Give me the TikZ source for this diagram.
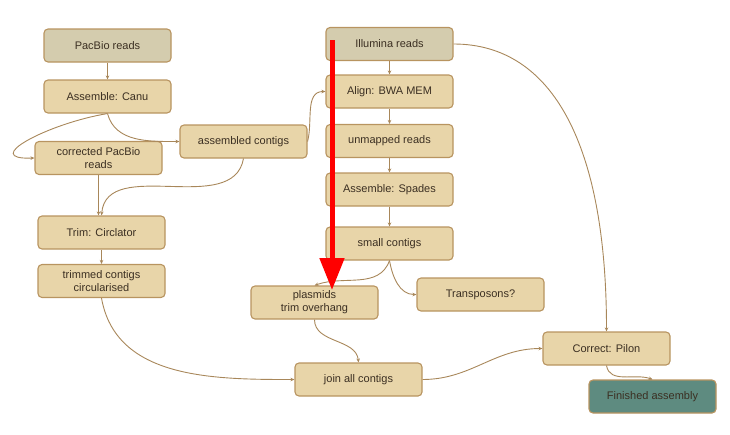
\documentclass[tikz,border=0pt]{standalone}
\usepackage{fontspec}
\setmainfont{Liberation Sans}
\usetikzlibrary{arrows.meta}

\definecolor{boxfill}{HTML}{E8D5A9}
\definecolor{inputfill}{HTML}{D4CCAE}
\definecolor{donefill}{HTML}{5E8B80}
\definecolor{boxline}{HTML}{B89460}
\definecolor{edgeline}{HTML}{A8875A}
\definecolor{boxtext}{HTML}{3B2F22}

\tikzset{
  stepbox/.style={draw=boxline, fill=boxfill, line width=1.1pt, rounded corners=4pt,
    minimum width=127pt, minimum height=33pt, align=center, text=boxtext,
    font=\fontsize{11}{13}\selectfont},
  inputbox/.style={stepbox, fill=inputfill},
  donebox/.style={stepbox, fill=donefill},
  flow/.style={draw=edgeline, line width=0.9pt, -{Stealth[length=4pt,width=3.5pt]}}
}

\begin{document}
\begin{tikzpicture}[x=1pt, y=1pt]

    % 0. Рамка картинки
    \useasboundingbox (0,0) rectangle (730,-434);

    % 1. Ветка PacBio (слева)
    \node[inputbox] (pacbio) at (107.5,-45.5) {PacBio reads};
    \node[stepbox] (canu) at (107.5,-96.5) {Assemble: Canu};
    \node[stepbox] (corr) at (98.5,-158) {corrected PacBio\\reads};
    \node[stepbox] (asm) at (243.5,-141.5) {assembled contigs};
    \node[stepbox] (circ) at (101.5,-232.5) {Trim: Circlator};
    \node[stepbox] (trimmed) at (101.5,-281) {trimmed contigs\\circularised};

    % 2. Ветка Illumina (в середине)
    \node[inputbox] (illu) at (389.5,-44) {Illumina reads};
    \node[stepbox] (bwa) at (389.5,-91.5) {Align: BWA MEM};
    \node[stepbox] (unmap) at (389.5,-141) {unmapped reads};
    \node[stepbox] (spades) at (389.5,-189.5) {Assemble: Spades};
    \node[stepbox] (small) at (389.5,-243.5) {small contigs};
    \node[stepbox] (plasmid) at (314.5,-302.5) {plasmids\\trim overhang};
    \node[stepbox] (transp) at (480.5,-294.5) {Transposons?};

    % 3. Сборка и коррекция (справа внизу)
    \node[stepbox] (join) at (358.5,-379.5) {join all contigs};
    \node[stepbox] (pilon) at (606.5,-348.5) {Correct: Pilon};
    \node[donebox] (done) at (652.5,-396.5) {Finished assembly};

    % 4. Стрелки
    \draw[flow] (pacbio) -- (canu);
    \draw[flow] (canu.south) .. controls +(-60,-10) and +(-55,-2) .. (corr.west);
    \draw[flow] (canu.south) to[out=-75, in=180] (asm.west);
    \draw[flow] (corr.south) -- (circ.north -| corr.south);
    \draw[flow] (asm.south) to[out=-100, in=85] (circ.north);
    \draw[flow] (circ) -- (trimmed);
    \draw[flow] (asm.east) to[out=75, in=180] (bwa.west);

    \draw[flow] (illu) -- (bwa);
    \draw[flow] (bwa) -- (unmap);
    \draw[flow] (unmap) -- (spades);
    \draw[flow] (spades) -- (small);
    \draw[flow] (small.south) to[out=-110, in=20] (plasmid.north);
    \draw[flow] (small.south) to[out=-80, in=180] (transp.west);

    \draw[flow] (plasmid.south) to[out=-90, in=95] (join.north);
    \draw[flow] (trimmed.south) to[out=-80, in=180] (join.west);
    \draw[flow] (join.east) to[out=0, in=180] (pilon.west);
    \draw[flow] (illu.east) .. controls +(100,0) and +(0,185) .. (pilon.north);
    \draw[flow] (pilon.south) to[out=-80, in=160] (done.north);

    % 5. Красная стрелка поверх
    \coordinate (redtop) at (332,-40);
    \coordinate (redtip) at (332,-290);
    \draw[red, line width=5pt, -{Triangle[length=32pt,width=24pt]}] (redtop) -- (redtip);

\end{tikzpicture}
\end{document}
